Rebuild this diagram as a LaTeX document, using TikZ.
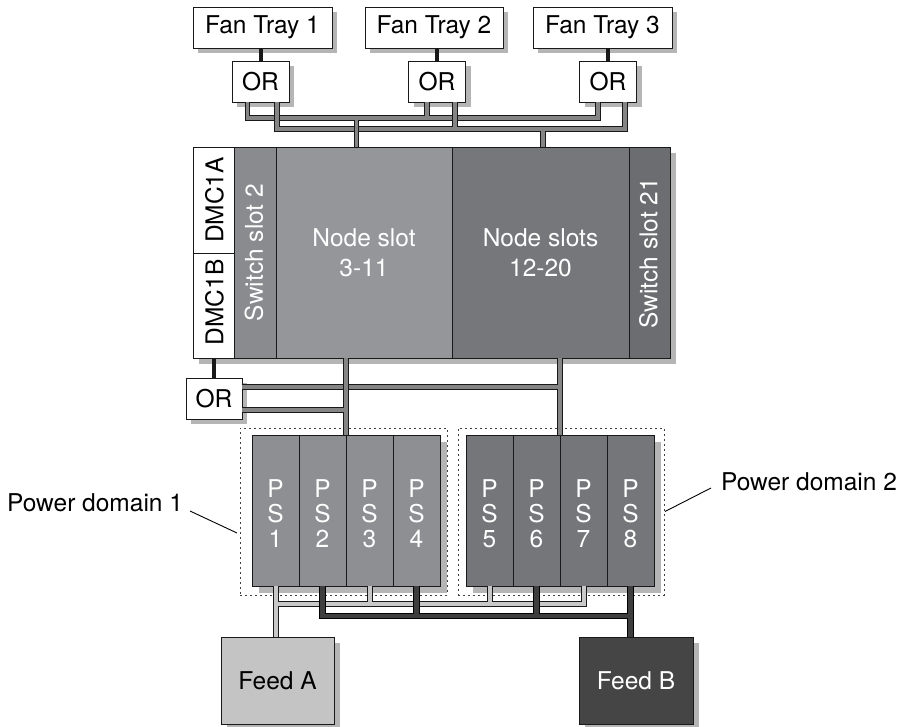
\documentclass[tikz,border=0pt]{standalone}
\usepackage{fontspec}
\setmainfont{TeX Gyre Heros}
\usetikzlibrary{shadows}
\definecolor{shd}{HTML}{B5B5B5}
\definecolor{swtwo}{HTML}{8A8B8E}
\definecolor{nsone}{HTML}{95969A}
\definecolor{nstwo}{HTML}{76777B}
\definecolor{swtwoone}{HTML}{6C6D70}
\definecolor{psone}{HTML}{8E8F93}
\definecolor{pstwo}{HTML}{75767A}
\definecolor{feedac}{HTML}{C4C4C4}
\definecolor{feedbc}{HTML}{454545}
\definecolor{pipeg}{HTML}{858585}
\definecolor{lightp}{HTML}{C8C8C8}
\definecolor{darkp}{HTML}{3E3E3E}
\begin{document}
\begin{tikzpicture}[x=1pt,y=-1pt,
  every node/.style={font=\fontsize{24.5}{29}\selectfont, inner sep=0pt, outer sep=0pt},
  bx/.style={draw=black!90, line width=0.9pt, rectangle},
  sh/.style={drop shadow={shadow xshift=#1, shadow yshift=-#1, fill=shd, opacity=1}},
  wbox/.style={bx, fill=white, sh=5pt},
  psbox/.style={bx, sh=7pt, minimum width=47pt, minimum height=151pt},
  pstext/.style={text=white, align=center, font=\fontsize{24.5}{24.8}\selectfont},
  slot/.style={bx, sh=6pt, minimum height=211pt},
  dotbox/.style={draw=black!75, line width=0.9pt, dash pattern=on 2pt off 3pt, minimum height=167pt},
  pipe/.style={draw=pipeg, line width=3.5pt, preaction={draw=black!90, line width=5.5pt}},
  lpipe/.style={draw=lightp, line width=4pt, preaction={draw=black!90, line width=6pt}},
  dpipe/.style={draw=darkp, line width=4.5pt, preaction={draw=black, line width=6.5pt}},
  blk/.style={draw=black!90, line width=4pt},
  leader/.style={draw=black, line width=0.9pt}
]
\fill[white] (0,0) rectangle (898,727);
\useasboundingbox (0,0) rectangle (898,727);

% fan trays and OR boxes
\node[wbox, minimum width=139pt, minimum height=41pt] (ft1) at (262.5,27.5) {Fan Tray 1};
\node[wbox, minimum width=138pt, minimum height=41pt] (ft2) at (434,27.5) {Fan Tray 2};
\node[wbox, minimum width=139pt, minimum height=41pt] (ft3) at (602.5,27.5) {Fan Tray 3};
\node[wbox, minimum width=57pt, minimum height=41pt] (or1) at (260.5,81.5) {OR};
\node[wbox, minimum width=57pt, minimum height=41pt] (or2) at (437,81.5) {OR};
\node[wbox, minimum width=57pt, minimum height=41pt] (or3) at (608,81.5) {OR};

% chassis
\node[bx, fill=white, sh=6pt, minimum width=41pt, minimum height=106pt] (dmca) at (213.5,200) {};
\node[bx, fill=white, sh=6pt, minimum width=41pt, minimum height=105pt] (dmcb) at (213.5,305.5) {};
\node[slot, fill=swtwo, minimum width=42pt] (sw2) at (255,252.5) {};
\node[slot, fill=nsone, minimum width=176pt, text=white, align=center, font=\fontsize{24.5}{30}\selectfont] (ns1) at (364,252.5) {Node slot\\3-11};
\node[slot, fill=nstwo, minimum width=177pt, text=white, align=center, font=\fontsize{24.5}{30}\selectfont] (ns2) at (540.5,252.5) {Node slots\\12-20};
\node[slot, fill=swtwoone, minimum width=41pt] (sw21) at (649.5,252.5) {};
\node[rotate=90] (tdmca) at ([xshift=1pt]dmca.center) {DMC1A};
\node[rotate=90] (tdmcb) at ([xshift=1pt,yshift=3pt]dmcb.center) {DMC1B};
\node[rotate=90, text=white] (tsw2) at ([xshift=-1pt]sw2.center) {Switch slot 2};
\node[rotate=90, text=white] (tsw21) at ([xshift=-1pt,yshift=-1pt]sw21.center) {Switch slot 21};

\node[wbox, minimum width=56pt, minimum height=41pt] (or4) at (214,398.5) {OR};

% power supplies
\node[psbox, fill=psone] (ps1) at (275.5,510.5) {};
\node[psbox, fill=psone] (ps2) at (322.5,510.5) {};
\node[psbox, fill=psone] (ps3) at (369.5,510.5) {};
\node[psbox, fill=psone] (ps4) at (416.5,510.5) {};
\node[psbox, fill=pstwo] (ps5) at (489.5,510.5) {};
\node[psbox, fill=pstwo] (ps6) at (536.5,510.5) {};
\node[psbox, fill=pstwo] (ps7) at (583.5,510.5) {};
\node[psbox, fill=pstwo] (ps8) at (630.5,510.5) {};
\node[pstext] (tps1) at ([yshift=-3pt]ps1.center) {P\\S\\1};
\node[pstext] (tps2) at ([yshift=-3pt]ps2.center) {P\\S\\2};
\node[pstext] (tps3) at ([yshift=-3pt]ps3.center) {P\\S\\3};
\node[pstext] (tps4) at ([yshift=-3pt]ps4.center) {P\\S\\4};
\node[pstext] (tps5) at ([yshift=-3pt]ps5.center) {P\\S\\5};
\node[pstext] (tps6) at ([yshift=-3pt]ps6.center) {P\\S\\6};
\node[pstext] (tps7) at ([yshift=-3pt]ps7.center) {P\\S\\7};
\node[pstext] (tps8) at ([yshift=-3pt]ps8.center) {P\\S\\8};
\node[dotbox, minimum width=207pt] (dom1) at (343.5,511.5) {};
\node[dotbox, minimum width=206pt] (dom2) at (561,511.5) {};

% feeds
\node[bx, fill=feedac, sh=6pt, minimum width=113pt, minimum height=87pt] (feeda) at (277.5,680.5) {Feed A};
\node[bx, fill=feedbc, sh=6pt, text=white, minimum width=114pt, minimum height=87pt] (feedb) at (636,680.5) {Feed B};

% labels
\node[anchor=east] (pd1) at (183,503) {Power domain 1};
\node[anchor=west] (pd2) at (721,482) {Power domain 2};
\draw[leader] ([xshift=7pt,yshift=-8pt]pd1.east) -- ([xshift=-3pt,yshift=-21.5pt]dom1.west);
\draw[leader] ([xshift=-10pt,yshift=-6pt]pd2.west) -- ([xshift=1pt]dom2.east);

% black connectors
\draw[blk] (or1.north |- ft1.south) -- (or1.north);
\draw[blk] (or2.north |- ft2.south) -- (or2.north);
\draw[blk] (or3.north |- ft3.south) -- (or3.north);
\draw[blk] (or4.north |- dmcb.south) -- (or4.north);

% fan bus
\coordinate (busA) at (0,118);
\coordinate (busB) at (0,129);
\coordinate (o1l) at ([xshift=-13pt]or1.south);
\coordinate (o1r) at ([xshift=16.5pt]or1.south);
\coordinate (o2l) at ([xshift=-10pt]or2.south);
\coordinate (o2r) at ([xshift=18pt]or2.south);
\coordinate (o3l) at ([xshift=-10pt]or3.south);
\coordinate (o3r) at ([xshift=17pt]or3.south);
\coordinate (c1) at ([xshift=-7.5pt]ns1.north);
\coordinate (c2) at ([xshift=2.5pt]ns2.north);
\coordinate (j1) at (c1 |- busA);
\draw[pipe] (o1l) -- (o1l |- busA) -- (o3l |- busA) -- (o3l) (o2l) -- (o2l |- busA);
\draw[pipe] (o1r) -- (o1r |- busB) -- (o3r |- busB) -- (o3r) (o2r) -- (o2r |- busB) (c2 |- busB) -- (c2);
\draw[pipe] (j1) -- (c1) ([xshift=-7pt]j1) -- ([xshift=7pt]j1);

% chassis to power supplies
\coordinate (v1b) at (ps2.north east);
\coordinate (v1t) at (v1b |- ns1.south);
\coordinate (v2b) at (ps6.north east);
\coordinate (v2t) at (v2b |- ns2.south);
\coordinate (o4u) at ([yshift=11.5pt]or4.east);
\coordinate (o4d) at ([yshift=-11.5pt]or4.east);
\draw[pipe] (v2t) -- (v2b) (o4u) -- (o4u -| v2b);
\draw[pipe] (v1t) -- (v1b) (o4d) -- (o4d -| v1b);

% feeds
\coordinate (lb) at (0,603.5);
\coordinate (db) at (0,616);
\draw[lpipe] (ps1.south) -- (ps1.south |- feeda.north)
  (ps1.south |- lb) -- (ps7.south |- lb) -- (ps7.south)
  (ps3.south) -- (ps3.south |- lb) (ps5.south) -- (ps5.south |- lb);
\draw[dpipe] (ps2.south) -- (ps2.south |- db) -- (ps8.south |- db)
  (ps8.south) -- (ps8.south |- feedb.north)
  (ps4.south) -- (ps4.south |- db) (ps6.south) -- (ps6.south |- db);
\end{tikzpicture}
\end{document}
